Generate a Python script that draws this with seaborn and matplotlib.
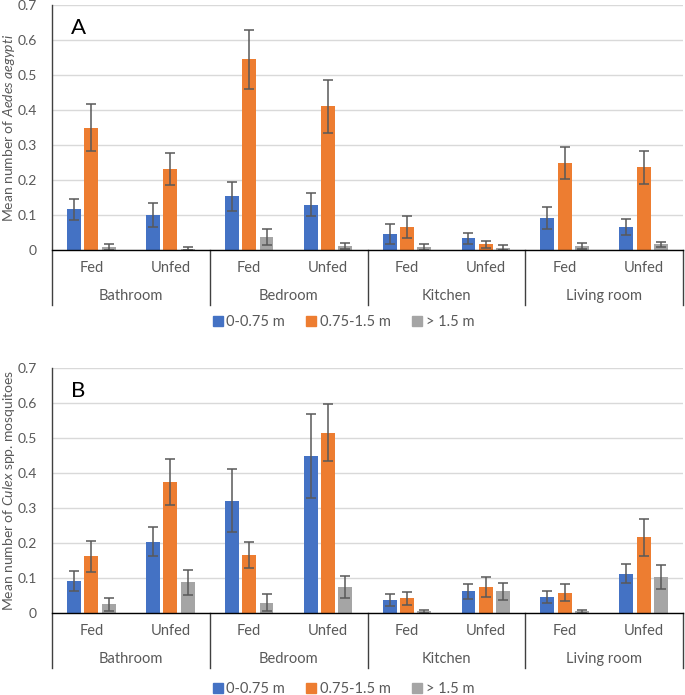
import numpy as np
import pandas as pd
import matplotlib
matplotlib.use("Agg")
import matplotlib.pyplot as plt
import matplotlib.transforms as mtransforms
from matplotlib.lines import Line2D
import seaborn as sns

# data
rooms = ["Bathroom", "Bedroom", "Kitchen", "Living room"]
feeding = ["Fed", "Unfed"]
heights = ["0-0.75 m", "0.75-1.5 m", "> 1.5 m"]
colors = ["#4472C4", "#ED7D31", "#A5A5A5"]
ytick_vals = [0, 0.1, 0.2, 0.3, 0.4, 0.5, 0.6, 0.7]
ytick_labels = ["0", "0.1", "0.2", "0.3", "0.4", "0.5", "0.6", "0.7"]

# order: Bathroom Fed, Bathroom Unfed, Bedroom Fed, ... Living room Unfed
aedes_low = [0.116, 0.100, 0.153, 0.129, 0.045, 0.033, 0.091, 0.066]
aedes_mid = [0.350, 0.232, 0.545, 0.411, 0.066, 0.016, 0.249, 0.237]
aedes_high = [0.008, 0.004, 0.037, 0.011, 0.008, 0.007, 0.011, 0.016]
aedes_low_err = [0.031, 0.033, 0.042, 0.033, 0.028, 0.017, 0.031, 0.024]
aedes_mid_err = [0.068, 0.045, 0.085, 0.076, 0.031, 0.009, 0.046, 0.047]
aedes_high_err = [0.008, 0.005, 0.024, 0.008, 0.008, 0.007, 0.008, 0.008]

culex_low = [0.091, 0.204, 0.321, 0.449, 0.038, 0.062, 0.046, 0.112]
culex_mid = [0.162, 0.374, 0.166, 0.515, 0.042, 0.075, 0.058, 0.216]
culex_high = [0.025, 0.088, 0.030, 0.075, 0.005, 0.062, 0.005, 0.104]
culex_low_err = [0.028, 0.042, 0.090, 0.119, 0.017, 0.022, 0.018, 0.027]
culex_mid_err = [0.044, 0.066, 0.037, 0.082, 0.018, 0.028, 0.025, 0.052]
culex_high_err = [0.018, 0.036, 0.025, 0.031, 0.004, 0.024, 0.004, 0.034]

groups = [r + " " + f for r in rooms for f in feeding]

plt.rcParams["font.family"] = ["Lato", "DejaVu Sans"]
plt.rcParams["mathtext.fontset"] = "custom"
plt.rcParams["mathtext.rm"] = "Lato"
plt.rcParams["mathtext.it"] = "Lato:italic"

txt_col = "#595959"


def make_df(means, errs):
    rows = []
    for h, m, e in zip(heights, means, errs):
        for g, mv, ev in zip(groups, m, e):
            rows.append({"group": g, "height": h, "mean": mv, "err": ev})
    return pd.DataFrame(rows)


def draw_panel(ax, df, letter, ylabel, legend_y):
    sns.barplot(data=df, x="group", y="mean", hue="height", order=groups,
                hue_order=heights, palette=colors, saturation=1, width=0.66,
                gap=0.2, errorbar=None, legend=False, ax=ax, zorder=2)
    for cont, h in zip(ax.containers, heights):
        sub = df[df["height"] == h].set_index("group").loc[groups]
        xs = [p.get_x() + p.get_width() / 2 for p in cont]
        ax.errorbar(xs, sub["mean"], yerr=sub["err"], fmt="none",
                    ecolor="#595959", elinewidth=1.1, capsize=3.5,
                    capthick=1.1, zorder=3)
    ax.set_xlim(-0.5, 7.5)
    ax.set_ylim(0, 0.7)
    ax.set_yticks(ytick_vals)
    ax.set_yticklabels(ytick_labels)
    ax.set_xticks(range(len(groups)))
    ax.set_xticklabels([f for r in rooms for f in feeding])
    ax.tick_params(axis="both", length=0, labelsize=10.5, colors=txt_col)
    ax.tick_params(axis="x", pad=8)
    ax.tick_params(axis="y", pad=11, labelsize=10)
    ax.set_xlabel("")
    ax.set_ylabel(ylabel, fontsize=10, color=txt_col)
    ax.yaxis.set_label_coords(-35 / 631, 0.5)
    ax.grid(axis="y", color="#D9D9D9", lw=1, zorder=0)
    ax.set_axisbelow(True)
    for s in ["top", "right", "left"]:
        ax.spines[s].set_visible(False)
    ax.spines["bottom"].set_color("black")
    ax.spines["bottom"].set_linewidth(1)
    ax.spines["bottom"].set_zorder(4)

    trans = mtransforms.blended_transform_factory(ax.transData, ax.transAxes)
    # left axis line extends below into the category area
    ax.plot([-0.5, -0.5], [1, -0.225], transform=trans, color="#404040",
            lw=1, clip_on=False)
    for xb in [1.5, 3.5, 5.5, 7.5]:
        ax.plot([xb, xb], [0, -0.225], transform=trans, color="#404040",
                lw=1, clip_on=False)
    for i, r in enumerate(rooms):
        ax.text(2 * i + 0.5, -0.188, r, transform=trans, ha="center",
                va="center", fontsize=10.5, color=txt_col)
    ax.text(0.03, 0.906, letter, transform=ax.transAxes, fontsize=16,
            ha="left", va="center", color="black")

    handles = [Line2D([], [], marker="s", ls="", color=c, markersize=7)
               for c in colors]
    fig.legend(handles, heights, loc="center", bbox_to_anchor=(0.5, legend_y),
               ncol=3, frameon=False, handletextpad=0.1, columnspacing=1.3,
               handlelength=1.0, prop={"size": 10.5}, labelcolor=txt_col)


fig = plt.figure(figsize=(6.85, 6.95), dpi=100)
axA = fig.add_axes([52 / 685, 1 - 250 / 695, 631 / 685, 245 / 695])
axB = fig.add_axes([52 / 685, 1 - 613 / 695, 631 / 685, 245 / 695])

dfA = make_df([aedes_low, aedes_mid, aedes_high],
              [aedes_low_err, aedes_mid_err, aedes_high_err])
dfB = make_df([culex_low, culex_mid, culex_high],
              [culex_low_err, culex_mid_err, culex_high_err])

draw_panel(axA, dfA, "A", r"Mean number of $\it{Aedes\ aegypti}$",
           1 - 322 / 695)
draw_panel(axB, dfB, "B", r"Mean number of $\it{Culex}$ spp. mosquitoes",
           1 - 689 / 695)

fig.savefig("out.png", dpi=100)
